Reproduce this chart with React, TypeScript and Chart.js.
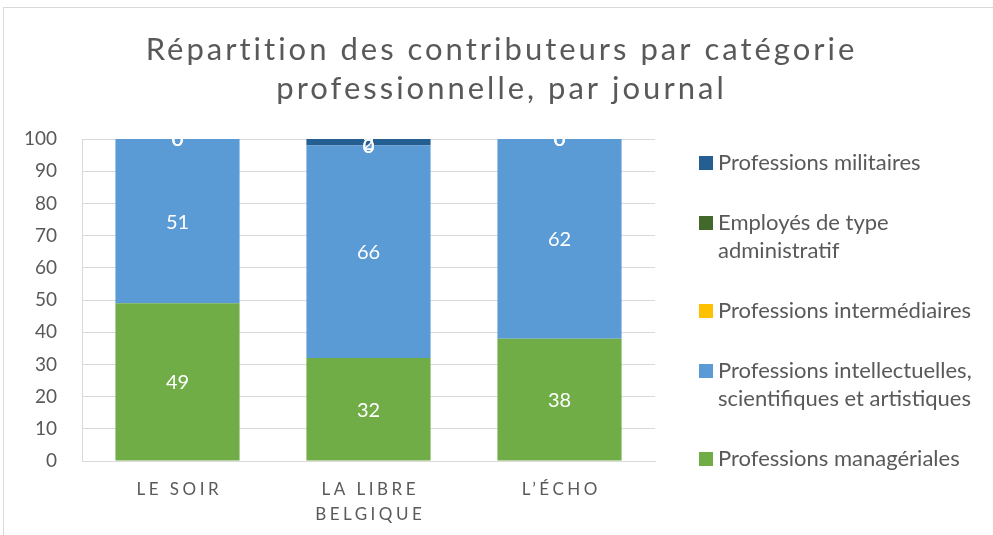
import React, { useEffect, useRef } from "react";
import { Chart, registerables } from "chart.js";

Chart.register(...registerables);

const categories: string[][] = [["LE SOIR"], ["LA LIBRE", "BELGIQUE"], ["L’ÉCHO"]];
const manageriales = [49, 32, 38];
const intellectuelles = [51, 66, 62];
const intermediaires = [0, 0, 0];
const employes = [0, 0, 0];
const militaires = [0, 2, 0];
const yMin = 0;
const yMax = 100;
const yStep = 10;
const titleLines = ["Répartition des contributeurs par catégorie", "professionnelle, par journal"];

const seriesNames = [
  "Professions managériales",
  "Professions intellectuelles, scientifiques et artistiques",
  "Professions intermédiaires",
  "Employés de type administratif",
  "Professions militaires",
];
const legendLines: string[][] = [
  ["Professions managériales"],
  ["Professions intellectuelles,", "scientifiques et artistiques"],
  ["Professions intermédiaires"],
  ["Employés de type", "administratif"],
  ["Professions militaires"],
];
const seriesColors = ["#70AD47", "#5B9BD5", "#FFC000", "#43682B", "#255E91"];

const FONT = "Lato, 'Open Sans', sans-serif";
const TEXT = "#595959";

const decorPlugin = {
  id: "decor",
  beforeDraw(chart: any) {
    const ctx = chart.ctx;
    ctx.save();
    ctx.strokeStyle = "#D9D9D9";
    ctx.lineWidth = 1;
    ctx.strokeRect(3.5, 7.5, 1100, 1100);
    ctx.restore();
  },
  afterDraw(chart: any) {
    const ctx = chart.ctx;
    const area = chart.chartArea;
    ctx.save();
    // Title
    ctx.fillStyle = TEXT;
    ctx.font = `31px ${FONT}`;
    (ctx as any).letterSpacing = "3px";
    ctx.textAlign = "center";
    ctx.textBaseline = "middle";
    titleLines.forEach((t, i) => ctx.fillText(t, 500 + 1.5, 50 + i * 39));

    // X labels
    const xs = chart.scales.x;
    ctx.font = `17px ${FONT}`;
    (ctx as any).letterSpacing = "3.5px";
    (chart.data.labels as string[][]).forEach((lab, i) => {
      const x = xs.getPixelForValue(i);
      lab.forEach((line, j) => ctx.fillText(line, x + 1.75, area.bottom + 29 + j * 25));
    });

    // Legend
    (ctx as any).letterSpacing = "0px";
    ctx.font = `22px ${FONT}`;
    ctx.textAlign = "left";
    const n = legendLines.length;
    for (let k = 0; k < n; k++) {
      const idx = n - 1 - k;
      const lines = legendLines[idx];
      const cy = area.top + 24 + k * 74;
      const firstY = cy - (lines.length - 1) * 14;
      ctx.fillStyle = seriesColors[idx];
      ctx.fillRect(699, firstY - 7, 14, 14);
      ctx.fillStyle = TEXT;
      lines.forEach((l, j) => ctx.fillText(l, 718, firstY + j * 28));
    }
    ctx.restore();
  },
  afterDatasetsDraw(chart: any) {
    const ctx = chart.ctx;
    const area = chart.chartArea;
    ctx.save();
    ctx.beginPath();
    ctx.rect(area.left, area.top, area.right - area.left, area.bottom - area.top);
    ctx.clip();
    ctx.fillStyle = "#FFFFFF";
    ctx.font = `20px ${FONT}`;
    ctx.textAlign = "center";
    ctx.textBaseline = "middle";
    chart.data.datasets.forEach((ds: any, di: number) => {
      const meta = chart.getDatasetMeta(di);
      meta.data.forEach((el: any, i: number) => {
        const v = ds.data[i];
        const y = (el.y + el.base) / 2;
        ctx.fillText(String(v), el.x, y + 1);
      });
    });
    ctx.restore();
  },
};

export default function App() {
  const ref = useRef<HTMLCanvasElement | null>(null);
  useEffect(() => {
    if (!ref.current) return;
    const data = [manageriales, intellectuelles, intermediaires, employes, militaires];
    const chart = new Chart(ref.current, {
      type: "bar",
      data: {
        labels: categories as any,
        datasets: data.map((d, i) => ({
          label: seriesNames[i],
          data: d,
          backgroundColor: seriesColors[i],
          borderWidth: 0,
          barPercentage: 0.65,
          categoryPercentage: 1,
        })),
      },
      options: {
        animation: false,
        responsive: true,
        maintainAspectRatio: false,
        layout: { padding: { left: 0, right: 338, top: 139, bottom: 74 } },
        plugins: {
          legend: { display: false },
          title: { display: false },
          tooltip: { enabled: false },
        },
        scales: {
          x: {
            stacked: true,
            ticks: { display: false },
            grid: { display: false, drawTicks: false },
            border: { display: true, color: "#D9D9D9", width: 1 },
            afterFit: (s: any) => {
              s.height = 0;
            },
          },
          y: {
            stacked: true,
            min: yMin,
            max: yMax,
            ticks: {
              stepSize: yStep,
              padding: 25,
              color: TEXT,
              font: { family: FONT, size: 19 },
            },
            grid: { color: "#D9D9D9", drawTicks: false },
            border: { display: true, color: "#D9D9D9" },
            afterFit: (s: any) => {
              s.width = 82;
            },
          },
        },
      },
      plugins: [decorPlugin],
    });
    return () => chart.destroy();
  }, []);
  return (
    <div style={{ position: "absolute", left: 0, top: 0, width: 993, height: 535, background: "#fff" }}>
      <canvas ref={ref} />
    </div>
  );
}
